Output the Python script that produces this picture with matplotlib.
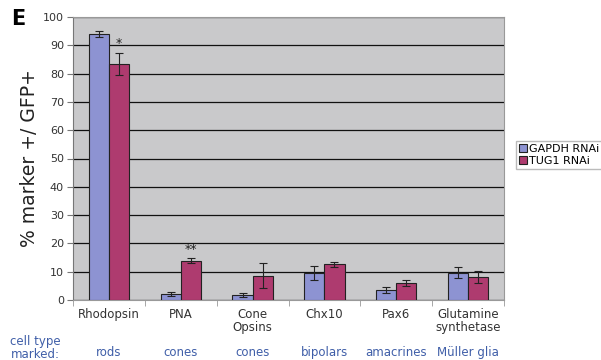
import matplotlib.pyplot as plt
import numpy as np

categories = ["Rhodopsin", "PNA", "Cone\nOpsins", "Chx10", "Pax6", "Glutamine\nsynthetase"]
cell_types = ["rods", "cones", "cones", "bipolars", "amacrines", "Müller glia"]
gapdh = [94.0, 2.1, 1.9, 9.6, 3.5, 9.6]
gapdh_err = [1.2, 0.8, 0.7, 2.5, 1.2, 2.0]
tug1 = [83.4, 13.9, 8.6, 12.6, 5.9, 8.1]
tug1_err = [4.0, 0.8, 4.4, 1.0, 1.0, 2.1]
stars = {0: "*", 1: "**"}

BLUE = "#8d93d2"
RED = "#ae3b6f"
TEXT_BLUE = "#3f5ea8"

fig = plt.figure(figsize=(6.01, 3.6), dpi=100)
ax = fig.add_axes([73 / 601, 1 - 300 / 360, 431 / 601, 283 / 360])
ax.set_facecolor("#c9c9cb")

x = np.arange(len(categories))
w = 0.28
ax.bar(x - w / 2, gapdh, w, color=BLUE, edgecolor="#222222", linewidth=0.8,
       yerr=gapdh_err, error_kw=dict(ecolor="#222222", elinewidth=0.8, capsize=3, capthick=0.8),
       label="GAPDH RNAi", zorder=3)
ax.bar(x + w / 2, tug1, w, color=RED, edgecolor="#222222", linewidth=0.8,
       yerr=tug1_err, error_kw=dict(ecolor="#222222", elinewidth=0.8, capsize=3, capthick=0.8),
       label="TUG1 RNAi", zorder=3)

for i, s in stars.items():
    ax.text(x[i] + w / 2, tug1[i] + tug1_err[i] + 1.0, s, ha="center", va="bottom",
            fontsize=9, color="#222222")

ax.set_xlim(-0.5, len(categories) - 0.5)
ax.set_ylim(0, 100)
ax.set_yticks(range(0, 101, 10))
ax.yaxis.grid(True, color="#111111", linewidth=0.9, zorder=0)
ax.set_axisbelow(True)
ax.set_xticks(x)
ax.set_xticklabels(categories, fontsize=8.5, color="#333333", linespacing=1.0)
ax.set_xticks(np.arange(len(categories) + 1) - 0.5, minor=True)
ax.tick_params(axis="x", which="major", length=0, pad=6)
ax.tick_params(axis="x", which="minor", length=4, color="#999999")
ax.tick_params(axis="y", labelsize=8, labelcolor="#333333", length=4, color="#777777", pad=2.5)
for side in ["top", "right"]:
    ax.spines[side].set_color("#999999")
ax.spines["left"].set_color("#777777")
ax.spines["bottom"].set_color("#999999")
ax.set_ylabel("% marker +/ GFP+", fontsize=13.5, color="#222222", labelpad=3)

for i, ct in enumerate(cell_types):
    ax.annotate(ct, (x[i], 0), xycoords=("data", "axes fraction"), xytext=(0, -38),
                textcoords="offset points", ha="center", va="center", fontsize=8.5, color=TEXT_BLUE)
fig.text(35 / 601, 1 - 348 / 360, "cell type\nmarked:", ha="center", va="center",
         fontsize=8.5, color=TEXT_BLUE, linespacing=1.0)

fig.text(18 / 601, 1 - 19 / 360, "E", fontsize=15, fontweight="bold", ha="center", va="center")

fig.legend(loc="center left", bbox_to_anchor=(510 / 601, 1 - 155 / 360), fontsize=8,
           frameon=True, fancybox=False, edgecolor="#aaaaaa", handlelength=0.7, handleheight=0.7,
           handletextpad=0.2, borderpad=0.3, labelspacing=0.2)

fig.savefig("out.png", dpi=100)
